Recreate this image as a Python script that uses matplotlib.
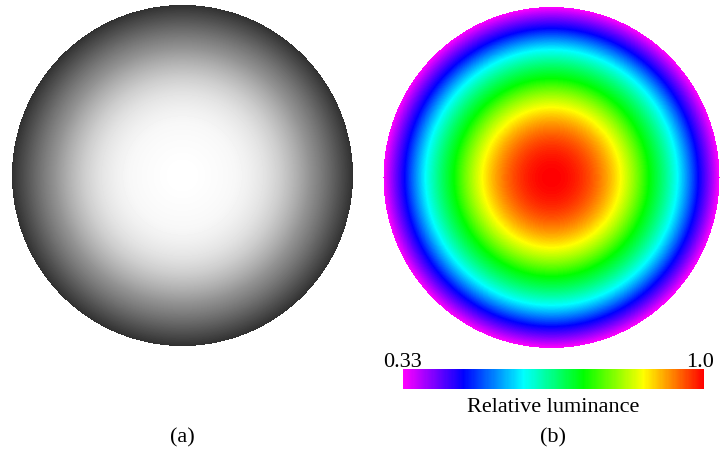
import numpy as np
import matplotlib
matplotlib.use("Agg")
import matplotlib.pyplot as plt
from matplotlib.colors import LinearSegmentedColormap, Normalize
from matplotlib.cm import ScalarMappable

plt.rcParams['font.family'] = ['Liberation Serif', 'DejaVu Serif']

# Radial fall-off of the captured image (a): gray level vs. normalized radius
gray_radius = [0.0, 0.15, 0.31, 0.39, 0.48, 0.57, 0.66, 0.75, 0.83, 0.92, 1.0]
gray_level = [1.0, 0.99, 0.97, 0.94, 0.89, 0.81, 0.70, 0.57, 0.46, 0.32, 0.19]

# Fitted relative luminance (b) vs. normalized radius
lum_radius = [0.0, 0.41, 0.58, 0.75, 0.875, 1.0]
lum_value = [1.0, 0.866, 0.732, 0.598, 0.464, 0.33]

lum_min, lum_max = 0.33, 1.0
tick_labels = ["0.33", "1.0"]
cbar_label = "Relative luminance"
panel_labels = ["(a)", "(b)"]

rainbow = LinearSegmentedColormap.from_list(
    "lum", ["#ff00ff", "#0000ff", "#00ffff", "#00ff00", "#ffff00", "#ff0000"])

W, H = 720, 451
fig = plt.figure(figsize=(W / 100, H / 100), dpi=100)
ax = fig.add_axes([0, 0, 1, 1])
ax.axis("off")


def disk_field(cx, cy, rx, ry, radii, values):
    x0, x1 = int(cx - rx) - 1, int(cx + rx) + 2
    y0, y1 = int(cy - ry) - 1, int(cy + ry) + 2
    xs = np.arange(x0, x1) + 0.5
    ys = np.arange(y0, y1) + 0.5
    X, Y = np.meshgrid(xs, ys)
    r = np.sqrt(((X - cx) / rx) ** 2 + ((Y - cy) / ry) ** 2)
    field = np.interp(r ** 2, np.asarray(radii) ** 2, values)
    field[r > 1.0] = np.nan
    return field, (x0, x1, y1, y0)


# (a) grayscale disk
f_a, ext_a = disk_field(182.5, 175.5, 170.5, 170.5, gray_radius, gray_level)
ax.imshow(f_a, extent=ext_a, cmap="gray", vmin=0, vmax=1,
          interpolation="nearest", origin="upper")

# (b) color-coded luminance disk
f_b, ext_b = disk_field(551.5, 177.5, 168.0, 170.5, lum_radius, lum_value)
ax.imshow(f_b, extent=ext_b, cmap=rainbow, vmin=lum_min, vmax=lum_max,
          interpolation="nearest", origin="upper")
ax.set_xlim(0, W)
ax.set_ylim(H, 0)
ax.set_aspect("auto")

# colorbar
cax = fig.add_axes([403 / W, (H - 389) / H, 301 / W, 20 / H])
cb = fig.colorbar(ScalarMappable(norm=Normalize(lum_min, lum_max), cmap=rainbow),
                  cax=cax, orientation="horizontal")
cb.set_ticks([])
cb.outline.set_visible(False)

fs = 16
ax.text(383, 367, tick_labels[0], fontsize=fs, ha="left", va="baseline")
ax.text(714, 367, tick_labels[1], fontsize=fs, ha="right", va="baseline")
ax.text(553, 408, cbar_label, fontsize=fs, ha="center", va="center")
ax.text(182, 438, panel_labels[0], fontsize=fs, ha="center", va="center")
ax.text(553, 438, panel_labels[1], fontsize=fs, ha="center", va="center")

fig.savefig("out.png", dpi=100)
